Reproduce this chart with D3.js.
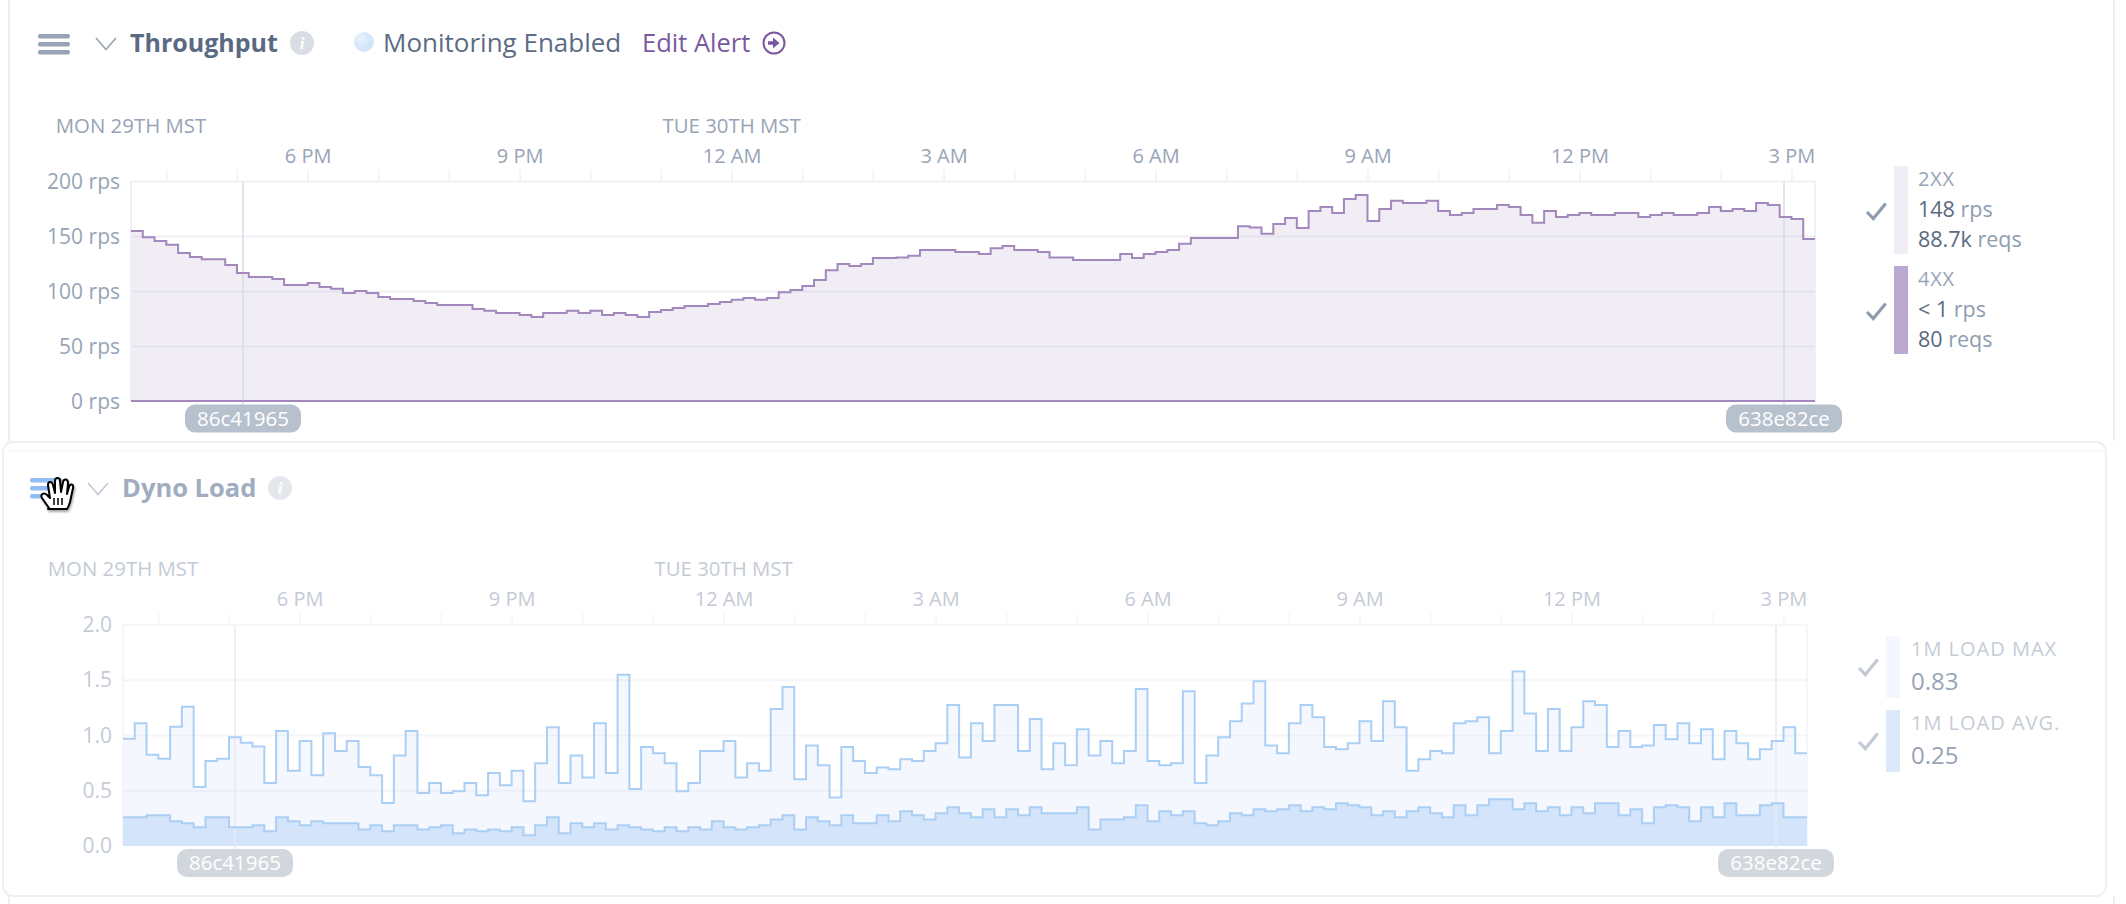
<!DOCTYPE html>
<meta charset="utf-8">
<style>
  html, body { margin: 0; padding: 0; background: #fff; }
  svg { display: block; }
  text { font-family: "Open Sans", sans-serif; }
</style>

<!-- Load d3.js -->
<script src="https://d3js.org/d3.v7.min.js"></script>

<div id="my_dataviz"></div>

<script>
  // 10 minute buckets, 143 of them, starting at 3:30 PM
  var throughput2xx = [
    155, 149.4, 145.9, 142.4, 135, 131.4, 129.4, 129.4, 124.1, 116.9, 113.2, 113.2, 111.4, 105.9, 105.9, 107.8,
    104.1, 102.4, 98.7, 100.4, 98.7, 95, 93.2, 93.2, 91.4, 89.6, 87.8, 87.8, 87.8, 84.1, 82.4, 80.4,
    80.4, 78.7, 76.9, 80.4, 80.4, 82.4, 80.4, 82.4, 78.7, 80.4, 78.7, 76.9, 81.4, 83.2, 85, 86.9,
    86.9, 88.7, 90.4, 92.4, 94.1, 92.4, 94.1, 99.4, 101.4, 105, 110.4, 119.4, 125, 123.2, 125, 130.4,
    130.4, 130.8, 132.4, 137.8, 137.8, 137.8, 135.9, 135.9, 134.1, 139.4, 141.4, 137.8, 137.8, 135.9, 130.8, 130.8,
    128.7, 128.7, 128.7, 128.7, 134.1, 130.4, 134.1, 135.9, 137.8, 143.4, 148.7, 148.7, 148.7, 148.7, 159.4, 158.1,
    152.4, 161.4, 166.9, 157.8, 173.2, 176.9, 171.4, 184.1, 187.8, 164.1, 175, 182.4, 180.4, 180.4, 182.4, 173.2,
    169.6, 171.4, 175, 175, 178.7, 176.9, 169.6, 162.4, 173.2, 167.8, 169.6, 171.4, 169.6, 169.6, 171.4, 171.4,
    167.8, 169.6, 171.4, 169.6, 169.6, 171.4, 176.9, 173.2, 175, 173.2, 180.4, 178.7, 167.8, 165.9, 147.8
  ];
  var throughput4xx = [
    0.5, 0.5, 0.5, 0.5, 0.5, 0.5, 0.5, 0.5, 0.5, 0.5, 0.5, 0.5, 0.5, 0.5, 0.5, 0.5,
    0.5, 0.5, 0.5, 0.5, 0.5, 0.5, 0.5, 0.5, 0.5, 0.5, 0.5, 0.5, 0.5, 0.5, 0.5, 0.5,
    0.5, 0.5, 0.5, 0.5, 0.5, 0.5, 0.5, 0.5, 0.5, 0.5, 0.5, 0.5, 0.5, 0.5, 0.5, 0.5,
    0.5, 0.5, 0.5, 0.5, 0.5, 0.5, 0.5, 0.5, 0.5, 0.5, 0.5, 0.5, 0.5, 0.5, 0.5, 0.5,
    0.5, 0.5, 0.5, 0.5, 0.5, 0.5, 0.5, 0.5, 0.5, 0.5, 0.5, 0.5, 0.5, 0.5, 0.5, 0.5,
    0.5, 0.5, 0.5, 0.5, 0.5, 0.5, 0.5, 0.5, 0.5, 0.5, 0.5, 0.5, 0.5, 0.5, 0.5, 0.5,
    0.5, 0.5, 0.5, 0.5, 0.5, 0.5, 0.5, 0.5, 0.5, 0.5, 0.5, 0.5, 0.5, 0.5, 0.5, 0.5,
    0.5, 0.5, 0.5, 0.5, 0.5, 0.5, 0.5, 0.5, 0.5, 0.5, 0.5, 0.5, 0.5, 0.5, 0.5, 0.5,
    0.5, 0.5, 0.5, 0.5, 0.5, 0.5, 0.5, 0.5, 0.5, 0.5, 0.5, 0.5, 0.5, 0.5, 0.5
  ];
  var loadMax = [
    0.97, 1.11, 0.825, 0.79, 1.08, 1.26, 0.535, 0.77, 0.79, 0.985, 0.935, 0.9, 0.57, 1.04, 0.68, 0.95,
    0.64, 1.02, 0.86, 0.95, 0.715, 0.64, 0.39, 0.82, 1.04, 0.48, 0.57, 0.48, 0.495, 0.57, 0.46, 0.66,
    0.55, 0.68, 0.405, 0.75, 1.075, 0.57, 0.82, 0.62, 1.11, 0.66, 1.55, 0.515, 0.895, 0.84, 0.75, 0.495,
    0.57, 0.86, 0.86, 0.95, 0.62, 0.75, 0.68, 1.24, 1.44, 0.605, 0.91, 0.73, 0.44, 0.895, 0.77, 0.66,
    0.71, 0.695, 0.785, 0.77, 0.86, 0.93, 1.275, 0.8, 1.11, 0.95, 1.275, 1.275, 0.86, 1.15, 0.695, 0.93,
    0.73, 1.057, 0.82, 0.95, 0.75, 0.86, 1.42, 0.77, 0.73, 0.75, 1.4, 0.57, 0.82, 0.985, 1.13, 1.29,
    1.49, 0.91, 0.84, 1.11, 1.275, 1.165, 0.895, 0.875, 0.93, 1.13, 0.95, 1.31, 1.075, 0.68, 0.785, 0.86,
    0.84, 1.11, 1.13, 1.165, 0.84, 1.04, 1.58, 1.2, 0.86, 1.24, 0.86, 1.075, 1.31, 1.275, 0.895, 1.04,
    0.895, 0.91, 1.095, 0.965, 1.11, 0.93, 1.057, 0.785, 1.04, 0.93, 0.785, 0.875, 0.95, 1.075, 0.84
  ];
  var loadAvg = [
    0.26, 0.26, 0.278, 0.278, 0.224, 0.205, 0.17, 0.26, 0.26, 0.17, 0.17, 0.187, 0.133, 0.26, 0.224, 0.187,
    0.224, 0.205, 0.205, 0.205, 0.15, 0.187, 0.133, 0.187, 0.187, 0.15, 0.17, 0.187, 0.115, 0.15, 0.133, 0.15,
    0.133, 0.17, 0.097, 0.187, 0.26, 0.115, 0.205, 0.17, 0.205, 0.15, 0.187, 0.17, 0.15, 0.133, 0.17, 0.133,
    0.17, 0.15, 0.224, 0.17, 0.15, 0.17, 0.187, 0.24, 0.278, 0.15, 0.26, 0.224, 0.187, 0.278, 0.205, 0.205,
    0.278, 0.224, 0.314, 0.278, 0.24, 0.296, 0.35, 0.296, 0.26, 0.332, 0.26, 0.332, 0.278, 0.35, 0.296, 0.296,
    0.296, 0.35, 0.15, 0.24, 0.24, 0.26, 0.369, 0.224, 0.314, 0.278, 0.314, 0.205, 0.187, 0.224, 0.296, 0.278,
    0.332, 0.314, 0.332, 0.369, 0.314, 0.35, 0.332, 0.387, 0.369, 0.35, 0.278, 0.314, 0.26, 0.314, 0.35, 0.296,
    0.26, 0.369, 0.278, 0.369, 0.423, 0.423, 0.332, 0.387, 0.314, 0.35, 0.278, 0.35, 0.296, 0.387, 0.387, 0.278,
    0.332, 0.205, 0.35, 0.369, 0.35, 0.224, 0.35, 0.26, 0.387, 0.278, 0.278, 0.369, 0.387, 0.26, 0.26
  ];

  var hourLabels = ["6 PM", "9 PM", "12 AM", "3 AM", "6 AM", "9 AM", "12 PM", "3 PM"];
  var dayLabels = ["MON 29TH MST", "TUE 30TH MST"];
  var rpsTicks = [0, 50, 100, 150, 200];
  var loadTicks = [0, 0.5, 1, 1.5, 2];
  var releases = ["86c41965", "638e82ce"];

  var tenMinutes = 600000;
  var startTime = Date.UTC(2018, 9, 29, 15, 30);
  var midnight = Date.UTC(2018, 9, 30, 0, 0);
  var releaseTimes = [Date.UTC(2018, 9, 29, 17, 5), Date.UTC(2018, 9, 30, 14, 54)];

  var svg = d3.select("#my_dataviz")
    .append("svg")
    .attr("width", 2126)
    .attr("height", 904);

  svg.append("rect").attr("width", 2126).attr("height", 904).attr("fill", "#fff");

  // page rules behind the cards
  svg.append("line").attr("x1", 9).attr("x2", 9).attr("y1", 0).attr("y2", 441).attr("stroke", "#eceef2").attr("stroke-width", 2);
  svg.append("line").attr("x1", 2114).attr("x2", 2114).attr("y1", 0).attr("y2", 441).attr("stroke", "#eceef2").attr("stroke-width", 2);
  svg.append("line").attr("x1", 9).attr("x2", 9).attr("y1", 896).attr("y2", 904).attr("stroke", "#eceef2").attr("stroke-width", 2);
  svg.append("line").attr("x1", 2114).attr("x2", 2114).attr("y1", 896).attr("y2", 904).attr("stroke", "#eceef2").attr("stroke-width", 2);
  svg.append("rect")
    .attr("x", 3).attr("y", 442).attr("width", 2103).attr("height", 454).attr("rx", 10)
    .attr("fill", "#fff").attr("stroke", "#eef0f3").attr("stroke-width", 2);
  svg.append("line").attr("x1", 9).attr("x2", 2105).attr("y1", 451).attr("y2", 451).attr("stroke", "#f7f8fa").attr("stroke-width", 2);

  function drawPanel(p) {
    var width = p.right - p.left;
    var g = svg.append("g").attr("transform", "translate(" + p.left + "," + p.top + ")");

    var x = d3.scaleTime()
      .domain([startTime, startTime + p.layers[0].values.length * tenMinutes])
      .range([0, width]);
    var y = d3.scaleLinear()
      .domain([p.ticks[0], p.ticks[p.ticks.length - 1]])
      .range([p.height, 0]);

    // hour ticks with a label on every third one
    var hours = d3.utcHour.range(new Date(startTime), new Date(startTime + 143 * tenMinutes));
    var labelled = hours.filter(function (h) { return h.getUTCHours() % 3 === 0; }).map(Number);
    var xAxis = g.append("g")
      .call(d3.axisTop(x)
        .tickValues(hours)
        .tickSize(12)
        .tickPadding(7)
        .tickFormat(function (h) {
          var i = labelled.indexOf(+h);
          return i < 0 ? "" : hourLabels[i];
        }));
    xAxis.select(".domain").remove();
    xAxis.selectAll("line").attr("stroke", p.tickColor).attr("stroke-width", 1.5);
    xAxis.selectAll("text")
      .attr("fill", p.axisText)
      .style("font-size", "20px")
      .style("font-family", p.font);

    // day labels sit over the left edge and over midnight
    g.selectAll(".day")
      .data([startTime, midnight])
      .enter().append("text")
      .attr("x", function (d) { return x(d); })
      .attr("y", -56)
      .attr("dy", "0.35em")
      .attr("text-anchor", "middle")
      .attr("fill", p.axisText)
      .style("font-size", "20.4px")
      .text(function (d, i) { return dayLabels[i]; });

    var yAxis = g.append("g")
      .call(d3.axisLeft(y).tickValues(p.ticks).tickSize(0).tickPadding(11).tickFormat(p.yFormat));
    yAxis.select(".domain").remove();
    yAxis.selectAll("text").attr("fill", p.axisText).style("font-size", "21px").style("font-family", p.font);

    // plot frame
    g.append("path")
      .attr("d", "M0," + p.height + "V0H" + width + "V" + p.height)
      .attr("fill", "none").attr("stroke", p.tickColor).attr("stroke-width", 2);

    var withEnd = function (values) { return values.concat(values[values.length - 1]); };
    var bx = function (d, i) { return x(startTime + i * tenMinutes); };

    p.layers.forEach(function (layer) {
      g.append("path")
        .datum(withEnd(layer.values))
        .attr("fill", layer.fill)
        .attr("d", d3.area().curve(d3.curveStepAfter).x(bx).y0(y(0)).y1(function (d) { return y(d); }));
    });

    // grid
    g.selectAll(".grid")
      .data(p.ticks.slice(1, -1))
      .enter().append("line")
      .attr("x1", 0).attr("x2", width)
      .attr("y1", function (d) { return y(d); })
      .attr("y2", function (d) { return y(d); })
      .attr("stroke", p.gridColor)
      .attr("stroke-width", 2);

    // release markers and their badges
    releaseTimes.forEach(function (t, i) {
      var mx = Math.round(x(t));
      g.append("line")
        .attr("x1", mx).attr("x2", mx).attr("y1", 1).attr("y2", p.height + 3)
        .attr("stroke", p.markerColor).attr("stroke-width", 1.5);
      g.append("rect")
        .attr("x", mx - 58).attr("y", p.height + 3).attr("width", 116).attr("height", 28).attr("rx", 10)
        .attr("fill", p.badgeColor);
      g.append("text")
        .attr("x", mx).attr("y", p.height + 17).attr("dy", "0.35em")
        .attr("text-anchor", "middle").attr("fill", "#fff")
        .style("font-size", "20.5px")
        .text(releases[i]);
    });

    p.layers.forEach(function (layer) {
      g.append("path")
        .datum(withEnd(layer.values))
        .attr("fill", "none")
        .attr("stroke", layer.stroke)
        .attr("stroke-width", 2)
        .attr("d", d3.line().curve(d3.curveStepAfter).x(bx).y(function (d) { return y(d); }));
    });
  }

  drawPanel({
    left: 131, right: 1815, top: 181.5, height: 220,
    ticks: rpsTicks,
    yFormat: function (d) { return d + " rps"; },
    font: "Open Sans",
    axisText: "#97a4b6", tickColor: "#eef1f6", gridColor: "rgba(200,204,226,0.3)",
    markerColor: "#d9dbe6", badgeColor: "#b7c0cd",
    layers: [
      { values: throughput2xx, fill: "#f0edf5", stroke: "#a288bc" },
      { values: throughput4xx, fill: "#b9a8cf", stroke: "#a288bc" }
    ]
  });

  drawPanel({
    left: 123, right: 1807, top: 625, height: 221,
    ticks: loadTicks,
    yFormat: d3.format(".1f"),
    font: "Open Sans",
    axisText: "#c4cbd5", tickColor: "#f5f6f9", gridColor: "rgba(210,216,232,0.25)",
    markerColor: "#e8eaf1", badgeColor: "#d2d7de",
    layers: [
      { values: loadMax, fill: "#f4f7fe", stroke: "#abcff4" },
      { values: loadAvg, fill: "#d4e4fa", stroke: "#abcff4" }
    ]
  });

  // header rows
  function bars(x, ys, w, color) {
    ys.forEach(function (y) {
      svg.append("rect").attr("x", x).attr("y", y).attr("width", w).attr("height", 4.5).attr("rx", 2).attr("fill", color);
    });
  }
  function chevron(x, y, color) {
    svg.append("path")
      .attr("d", "M" + x + "," + y + "l10,11.5l10,-11.5")
      .attr("fill", "none").attr("stroke", color).attr("stroke-width", 1.8);
  }
  function label(x, y, txt, color, size, weight) {
    return svg.append("text")
      .attr("x", x).attr("y", y).attr("dy", "0.35em")
      .attr("fill", color)
      .style("font-size", size + "px")
      .style("font-weight", weight || 400)
      .text(txt);
  }
  function info(x, y, color) {
    svg.append("circle").attr("cx", x).attr("cy", y).attr("r", 12).attr("fill", color);
    svg.append("text").attr("x", x).attr("y", y).attr("dy", "0.35em").attr("text-anchor", "middle")
      .attr("fill", "#fff").style("font-size", "17px").style("font-style", "italic").style("font-weight", 700)
      .style("font-family", "Liberation Serif")
      .text("i");
  }

  bars(38, [34, 42, 50], 32, "#98a4b5");
  chevron(96, 38, "#9aa7b8");
  label(130, 43, "Throughput", "#596a82", 25, 700);
  info(302, 43, "#d9dde4");

  var dot = svg.append("defs").append("radialGradient").attr("id", "dot").attr("cx", "35%").attr("cy", "35%");
  dot.append("stop").attr("offset", "0%").attr("stop-color", "#eaf3fd");
  dot.append("stop").attr("offset", "100%").attr("stop-color", "#d3e5fa");
  svg.append("circle").attr("cx", 364).attr("cy", 42).attr("r", 10).attr("fill", "url(#dot)");
  label(383, 43, "Monitoring Enabled", "#5b6b84", 26);
  label(642, 43, "Edit Alert", "#79589f", 25.5);
  svg.append("circle").attr("cx", 774).attr("cy", 43).attr("r", 10.5).attr("fill", "none").attr("stroke", "#79589f").attr("stroke-width", 2);
  svg.append("path").attr("d", "M768,41.2h5v-3.7l6.5,5.5l-6.5,5.5v-3.7h-5z").attr("fill", "#79589f");

  bars(30, [478, 486, 494], 32, "#8fbdf4");
  chevron(88, 483, "#c5ccd7");
  label(122, 488, "Dyno Load", "#a0acbf", 25.5, 700);
  info(280, 488, "#e4e8ed");

  // grabbing hand cursor over the drag handle
  var hand = svg.append("g").attr("transform", "translate(42,478)").style("filter", "drop-shadow(1px 2px 1px rgba(0,0,0,0.35))");
  hand.append("path")
    .attr("d", "M8,30 L1,20 C-1,16 3,14 6,17 L9,20 L7,7 C7,3 11,3 12,7 L14,15 L14,3 C14,-1 19,-1 19,3 L20,14 L22,4 C23,0 27,1 27,5 L26,16 L28,9 C29,5 33,6 32,10 L29,24 C28,28 27,29 26,31 L7,31 Z")
    .attr("transform", "translate(-1,0)")
    .attr("fill", "#fff").attr("stroke", "#000").attr("stroke-width", 2).attr("stroke-linejoin", "round");
  hand.append("path").attr("d", "M12,20v7M16,20v7M20,20v7").attr("stroke", "#000").attr("stroke-width", 1.5);

  // legends
  function check(x, y, color) {
    svg.append("path")
      .attr("d", "M" + (x - 9) + "," + y + "l6.3,6.6l12.4,-15")
      .attr("fill", "none").attr("stroke", color).attr("stroke-width", 3.2);
  }
  function swatch(x, y, h, color) {
    svg.append("rect").attr("x", x).attr("y", y).attr("width", 14).attr("height", h).attr("fill", color);
  }
  function valueRow(x, y, strong, unit) {
    var t = label(x, y, "", "#596a82", 21.5);
    t.append("tspan").text(strong);
    t.append("tspan").attr("fill", "#8f9db0").text(" " + unit);
  }

  swatch(1894, 166, 88, "#f0edf5");
  check(1876, 212, "#8e9cae");
  label(1918, 179, "2XX", "#97a4b6", 20).style("letter-spacing", "0.8px");
  valueRow(1918, 209, "148", "rps");
  valueRow(1918, 239, "88.7k", "reqs");

  swatch(1894, 266, 88, "#b9a8cf");
  check(1876, 312, "#8e9cae");
  label(1918, 279, "4XX", "#97a4b6", 20).style("letter-spacing", "0.8px");
  valueRow(1918, 309, "< 1", "rps");
  valueRow(1918, 339, "80", "reqs");

  swatch(1886, 636, 62, "#f4f7fe");
  check(1868, 668, "#c3cad3");
  label(1911, 649, "1M LOAD MAX", "#c5ccd6", 20).style("letter-spacing", "1px");
  label(1911, 682, "0.83", "#98a4b6", 24);

  swatch(1886, 710, 62, "#dce9fb");
  check(1868, 742, "#c3cad3");
  label(1911, 723, "1M LOAD AVG.", "#c5ccd6", 20).style("letter-spacing", "1px");
  label(1911, 756, "0.25", "#98a4b6", 24);
</script>
